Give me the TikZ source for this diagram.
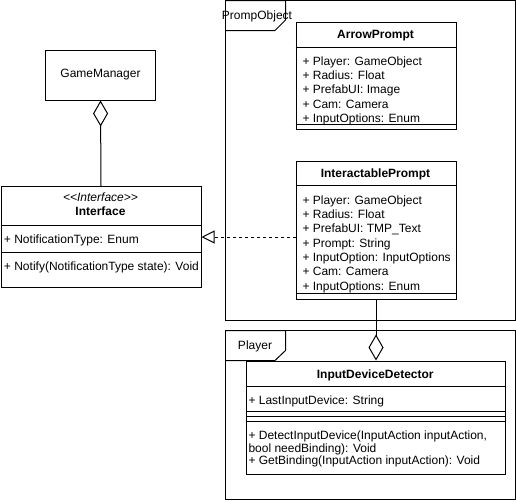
\documentclass[tikz,border=0pt]{standalone}
\usepackage{fontspec}
\newfontfamily\umlfont{Liberation Sans}
\usetikzlibrary{arrows.meta}

\begin{document}
\begin{tikzpicture}[x=1pt, y=-1pt, line width=1pt,
    font=\umlfont\fontsize{12}{14}\selectfont,
    box/.style={draw, rectangle, inner sep=0pt, anchor=north west},
    member/.style={anchor=base west, inner sep=0pt},
    caption/.style={anchor=base, inner sep=0pt},
    heading/.style={caption, font=\umlfont\fontsize{12}{14}\selectfont\bfseries},
    aggr/.style={-{Diamond[open, length=26pt, width=15pt]}},
    realize/.style={dash pattern=on 3pt off 3pt, -{Triangle[open, length=13pt, width=13pt]}}]
    \useasboundingbox (0,0) rectangle (516,501);

  \node[draw, minimum width=110pt, minimum height=50pt, inner sep=0pt] (gm) at (100.5,75) {GameManager};

  \node[box, minimum width=200pt, minimum height=101pt] (iface) at (0.5,186) {};
  \draw (0.5,225) -- (200.5,225);
  \draw (0.5,252) -- (200.5,252);
  \node[caption, font=\umlfont\fontsize{12}{14}\selectfont\itshape] (iface-st) at (100.5,201.3) {<<Interface>>};
  \node[heading] (iface-name) at (100.5,215.3) {Interface};
  \node[member] (iface-a1) at (3.5,243.3) {+ NotificationType: Enum};
  \node[member] (iface-m1) at (3.5,270.3) {+ Notify(NotificationType state): Void};

  \draw[aggr] (iface.north) -- (gm.south);

  \draw (225,0.5) rectangle (515,320);
  \draw (225,0.5) -- (285.5,0.5) -- (285.5,20) -- (275,30.5) -- (225,30.5);
  \node[caption] (prompobj) at (257,19.3) {PrompObject};

  \node[box, minimum width=160pt, minimum height=107pt] (ap) at (295.5,21.5) {};
  \draw (295.5,47.5) -- (455.5,47.5);
  \draw (295.5,124) -- (455.5,124);
  \node[heading] (ap-name) at (375.5,38.3) {ArrowPrompt};
  \foreach \txt [count=\i] in {{+ Player: GameObject}, {+ Radius: Float}, {+ PrefabUI: Image},
      {+ Cam: Camera}, {+ InputOptions: Enum}}
    \node[member] (ap-\i) at (302,{65+14.4*(\i-1)}) {\txt};

  \node[box, minimum width=160pt, minimum height=138pt] (ip) at (295.5,160.5) {};
  \draw (295.5,185.5) -- (455.5,185.5);
  \draw (295.5,293.5) -- (455.5,293.5);
  \node[heading] (ip-name) at (375.5,177.6) {InteractablePrompt};
  \foreach \txt [count=\i] in {{+ Player: GameObject}, {+ Radius: Float}, {+ PrefabUI: TMP\_Text},
      {+ Prompt: String}, {+ InputOption: InputOptions}, {+ Cam: Camera}, {+ InputOptions: Enum}}
    \node[member] (ip-\i) at (302,{204.3+14.3*(\i-1)}) {\txt};

  \draw[realize] (ip.west |- iface.east) -- (iface.east);

  \draw (225,330.5) rectangle (515,499);
  \draw (225,330.5) -- (285.5,330.5) -- (285.5,350.5) -- (275,360.5) -- (225,360.5);
  \node[caption] (player) at (255,349.3) {Player};

  \node[box, minimum width=259.5pt, minimum height=113pt] (idd) at (245.5,360.5) {};
  \draw (245.5,386) -- (505,386);
  \draw (245.5,411.5) -- (505,411.5);
  \draw (245.5,416.5) -- (505,416.5);
  \draw (245.5,421) -- (505,421);
  \node[heading] (idd-name) at (375.25,378.3) {InputDeviceDetector};
  \node[member] (idd-a1) at (248,404.3) {+ LastInputDevice: String};
  \foreach \txt [count=\i] in {{+ DetectInputDevice(InputAction inputAction,}, {bool needBinding): Void},
      {+ GetBinding(InputAction inputAction): Void}}
    \node[member] (idd-m\i) at (248,{439.5+12.5*(\i-1)}) {\txt};

  \draw[aggr] (ip.south) -- (ip.south |- idd.north);
\end{tikzpicture}
\end{document}
